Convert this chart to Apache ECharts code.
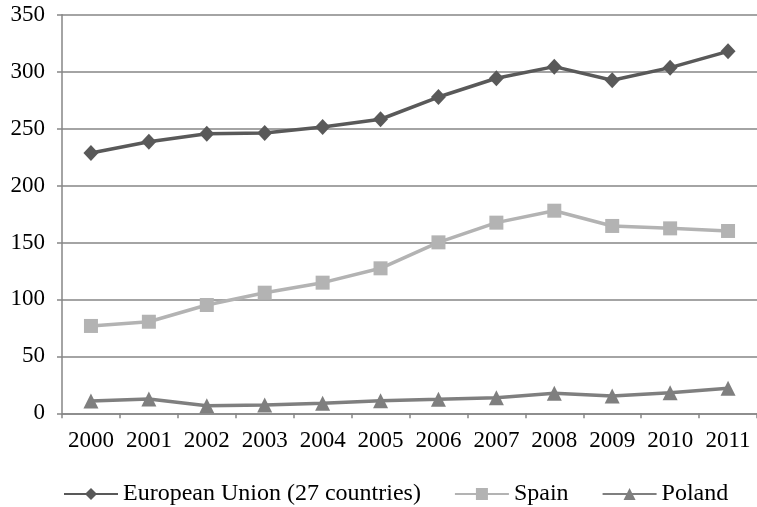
<!DOCTYPE html>
<html><head><meta charset="utf-8">
<script src="https://cdn.jsdelivr.net/npm/echarts@6/dist/echarts.min.js"></script>
<style>html,body{margin:0;padding:0;background:#fff}#c{width:757px;height:507px}</style>
</head><body><div id="c"></div>
<script>
var years = ['2000','2001','2002','2003','2004','2005','2006','2007','2008','2009','2010','2011'];
var euValues = [228.6, 238.5, 245.5, 246.2, 251.4, 258.2, 277.7, 294.2, 304.4, 292.5, 303.5, 317.8];
var spainValues = [76.7, 80.4, 95.1, 105.9, 114.7, 127.3, 150.1, 167.4, 177.9, 164.5, 162.4, 160.1];
var polandValues = [10.8, 12.6, 6.7, 7.3, 8.8, 11.1, 12.3, 13.7, 17.6, 15.2, 18.1, 21.9];
var seriesNames = ['European Union (27 countries)', 'Spain', 'Poland'];

var font = 'Liberation Serif';
var chart = echarts.init(document.getElementById('c'));
function mk(name, data, color, symbol, size) {
  return {
    name: name, type: 'line', data: data,
    symbol: symbol, symbolSize: size,
    lineStyle: {color: color, width: 3.5},
    itemStyle: {color: color},
    emphasis: {disabled: true},
    animation: false
  };
}
chart.setOption({
  animation: false,
  grid: {left: 62, right: 0, top: 14.7, bottom: 93.7, containLabel: false},
  xAxis: {
    type: 'category', data: years, boundaryGap: true,
    axisLine: {lineStyle: {color: '#868686', width: 1.5}},
    axisTick: {show: true, length: 5, interval: 0, lineStyle: {color: '#868686', width: 1.5}},
    axisLabel: {color: '#000', fontFamily: font, fontSize: 23, margin: 16, interval: 0}
  },
  yAxis: {
    type: 'value', min: 0, max: 350, interval: 50,
    axisLine: {show: true, lineStyle: {color: '#868686', width: 1.5}},
    axisTick: {show: true, length: 5, lineStyle: {color: '#868686', width: 1.5}},
    splitLine: {lineStyle: {color: '#868686', width: 1.5}},
    axisLabel: {color: '#000', fontFamily: font, fontSize: 23, margin: 17}
  },
  legend: {
    left: 58, top: 477, itemGap: 33, itemWidth: 54, itemHeight: 15,
    textStyle: {color: '#000', fontFamily: font, fontSize: 24},
    data: seriesNames
  },
  series: [
    mk(seriesNames[0], euValues, '#595959', 'diamond', [15, 16]),
    mk(seriesNames[1], spainValues, '#b3b3b3', 'rect', 14),
    mk(seriesNames[2], polandValues, '#7f7f7f', 'triangle', 15)
  ]
});
</script></body></html>
